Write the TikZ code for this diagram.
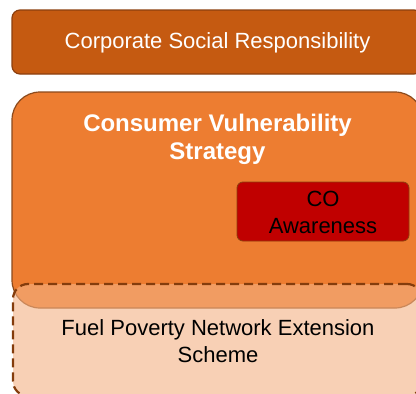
\documentclass[tikz,border=0pt]{standalone}
\usepackage{fontspec}
\setmainfont{Liberation Sans}
\definecolor{csrfill}{HTML}{C55A11}
\definecolor{csrline}{HTML}{8C3F0E}
\definecolor{cvsfill}{HTML}{ED7D31}
\definecolor{cvsline}{HTML}{8C4A1C}
\definecolor{cofill}{HTML}{C00000}
\definecolor{coline}{HTML}{8C3F0E}
\definecolor{fpfill}{HTML}{F4B183}
\definecolor{fpline}{HTML}{843C0C}
\tikzset{
  boxbase/.style={draw, inner sep=0pt, outer sep=0pt},
  txt/.style={align=center, inner sep=0pt, font=\fontsize{22}{27}\selectfont}
}
\begin{document}
\begin{tikzpicture}[x=1pt,y=-1pt]
\useasboundingbox (0,0) rectangle (416,394);
\clip (0,0) rectangle (416,394);
% Corporate Social Responsibility
\node[boxbase, fill=csrfill, draw=csrline, line width=1.2pt, rounded corners=8pt,
      minimum width=410pt, minimum height=64pt] (csr) at (217,42) {};
\node[txt, text=white] (csrt) at (217.5,43) {Corporate Social Responsibility};
% Consumer Vulnerability Strategy
\node[boxbase, fill=cvsfill, draw=cvsline, line width=1.2pt, rounded corners=28pt,
      minimum width=411pt, minimum height=216pt] (cvs) at (217.5,200) {};
\node[txt, text=white, font=\fontsize{24}{28}\selectfont\bfseries] (cvst) at (217.5,139) {Consumer Vulnerability\\Strategy};
% CO Awareness
\node[boxbase, fill=cofill, draw=coline, line width=0.8pt, rounded corners=6pt,
      minimum width=172pt, minimum height=59pt] (co) at (323,211.5) {};
\node[txt, text=black] (cot) at (323,212) {CO\\Awareness};
% Fuel Poverty Network Extension Scheme
\node[boxbase, fill=fpfill, fill opacity=0.6, draw=fpline, draw opacity=1, line width=2.2pt,
      dash pattern=on 9pt off 5pt, rounded corners=15pt,
      minimum width=409pt, minimum height=112pt] (fp) at (217.5,340) {};
\node[txt, text=black] (fpt) at (218,341) {Fuel Poverty Network Extension\\Scheme};
\end{tikzpicture}
\end{document}
